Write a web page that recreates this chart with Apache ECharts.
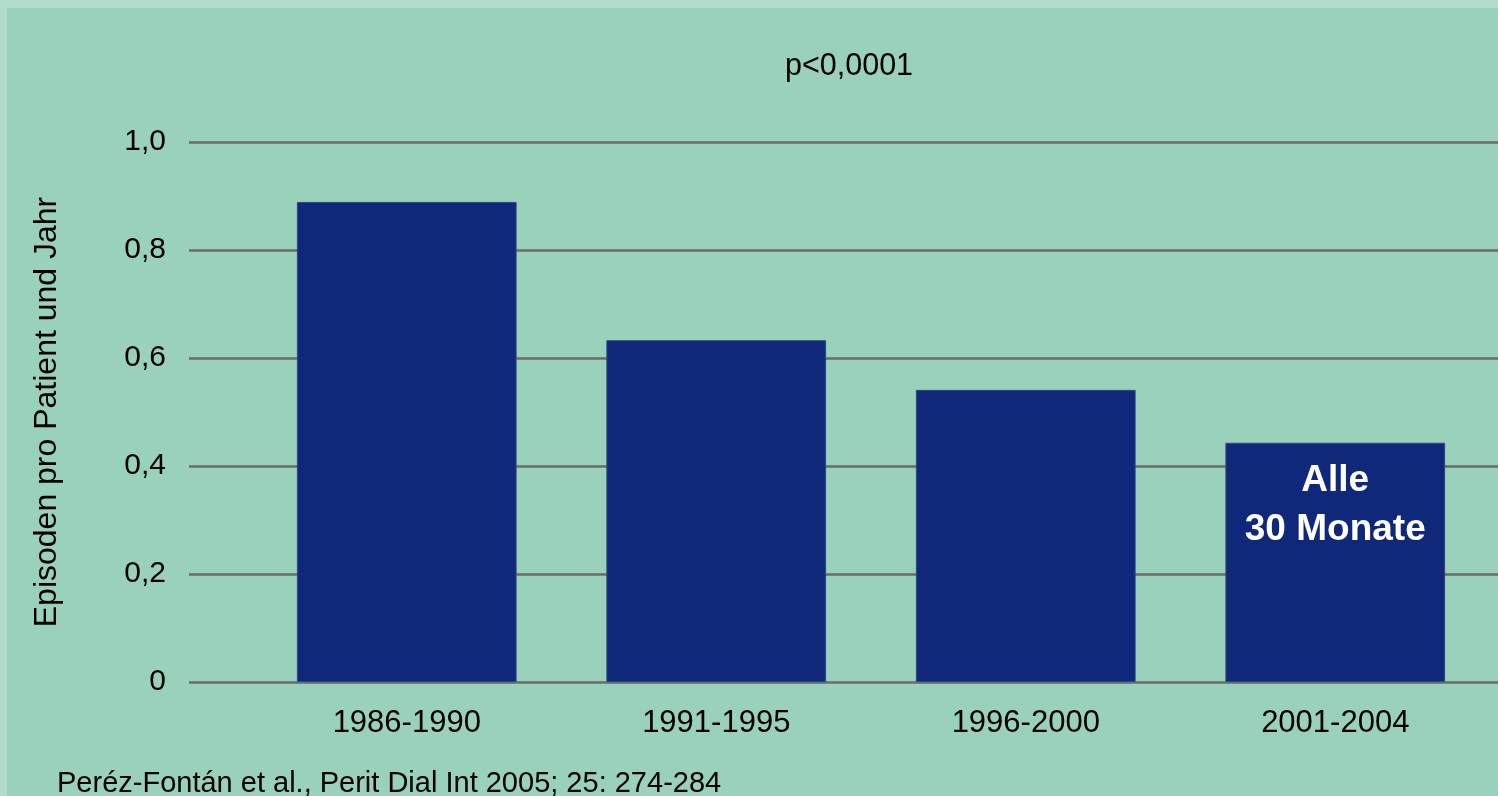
<!DOCTYPE html>
<html>
<head>
<meta charset="utf-8">
<script src="https://cdn.jsdelivr.net/npm/echarts@6/dist/echarts.min.js"></script>
<style>
html,body{margin:0;padding:0;width:1498px;height:796px;overflow:hidden;background:#b2ddcc;}
#c{position:absolute;left:7px;top:8px;width:1491px;height:788px;background:#9ad1bb;}
</style>
</head>
<body>
<div id="c"></div>
<script>
const categories = ['1986-1990', '1991-1995', '1996-2000', '2001-2004'];
const values = [0.889, 0.633, 0.541, 0.443];
const yTicks = [0, 0.2, 0.4, 0.6, 0.8, 1.0];
const titleText = 'p<0,0001';
const yName = 'Episoden pro Patient und Jahr';
const footer = 'Peréz-Fontán et al., Perit Dial Int 2005; 25: 274-284';
const barNote = 'Alle\n30 Monate';

const font = '"Liberation Sans", Arial, sans-serif';
const chart = echarts.init(document.getElementById('c'), null, {renderer: 'canvas'});

const seriesData = values.map((v, i) => {
  const item = {value: v};
  if (i === values.length - 1) {
    item.label = {
      show: true, position: 'insideTop', distance: 14,
      formatter: barNote, color: '#ffffff', fontFamily: font,
      fontWeight: 'bold', fontSize: 37, lineHeight: 49, align: 'center'
    };
  }
  return item;
});

chart.setOption({
  animation: false,
  textStyle: {fontFamily: font},
  title: [
    {text: titleText, left: 773, top: 38,
     textStyle: {fontFamily: font, fontSize: 30.5, fontWeight: 'normal', color: '#000'}},
    {text: footer, left: 45, top: 756,
     textStyle: {fontFamily: font, fontSize: 29, fontWeight: 'normal', color: '#000'}}
  ],
  grid: [
    {left: 182, right: 0, top: 134, bottom: 114},
    {left: 245, right: 8, top: 134, bottom: 114}
  ],
  xAxis: [
    {type: 'value', gridIndex: 0, min: 0, max: 1, show: false},
    {type: 'category', gridIndex: 1, data: categories,
     axisLine: {show: false}, axisTick: {show: false},
     axisLabel: {fontFamily: font, fontSize: 31, color: '#000', margin: 26}}
  ],
  yAxis: [
    {type: 'value', gridIndex: 0, min: 0, max: 1, interval: 0.2,
     name: yName, nameLocation: 'middle', nameGap: 126,
     nameTextStyle: {fontFamily: font, fontSize: 32, color: '#000'},
     axisLine: {show: false}, axisTick: {show: false},
     axisLabel: {fontFamily: font, fontSize: 30, color: '#000', margin: 23,
       formatter: v => (v === 0 ? '0' : v.toFixed(1).replace('.', ','))},
     splitLine: {show: true, lineStyle: {color: '#6a6a6a', width: 2.5}}},
    {type: 'value', gridIndex: 1, min: 0, max: 1, interval: 0.2, show: false,
     splitLine: {show: false}}
  ],
  series: [{
    type: 'bar', xAxisIndex: 1, yAxisIndex: 1,
    data: seriesData, barCategoryGap: '29%',
    itemStyle: {color: '#10287a', borderColor: '#2a4a86', borderWidth: 1}
  }]
});
</script>
</body>
</html>
